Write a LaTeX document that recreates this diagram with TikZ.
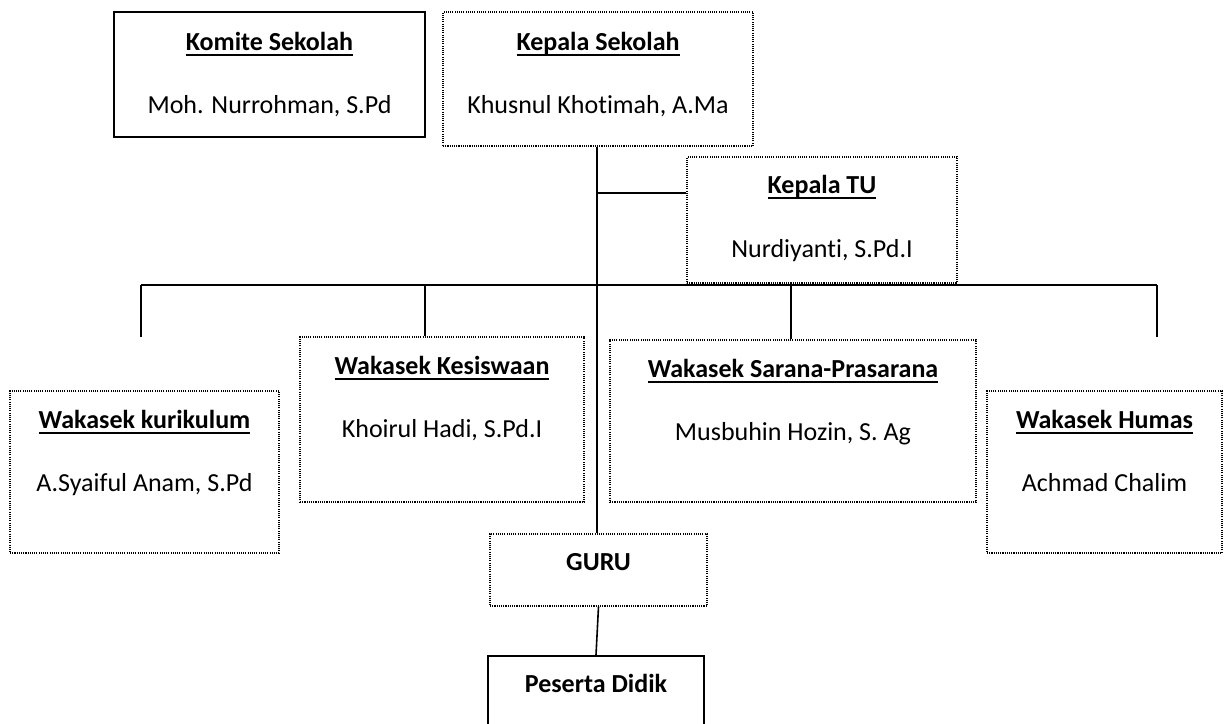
\documentclass[tikz,border=0pt]{standalone}
\usepackage{fontspec}
\setmainfont{Carlito}[Ligatures={NoCommon}]
\tikzset{
  solidbox/.style={draw, line width=1pt, inner sep=0pt, rectangle},
  dotbox/.style={draw, line width=0.6pt, dash pattern=on 0.55pt off 0.55pt, inner sep=0pt, rectangle},
  ttl/.style={anchor=base, inner sep=0pt, font=\fontsize{13pt}{15pt}\selectfont\bfseries},
  nm/.style={anchor=base, inner sep=0pt, font=\fontsize{13pt}{15pt}\selectfont},
  conn/.style={draw, line width=0.8pt}
}
\newcommand{\ul}[1]{\setbox0\hbox{#1}\rlap{\rule[-3pt]{\wd0}{1pt}}\box0}
\begin{document}
\begin{tikzpicture}[x=0.5pt, y=-0.5pt]
\useasboundingbox (0,0) rectangle (1225,723);
\clip (0,0) rectangle (1225,723);
% boxes
\node[solidbox, minimum width=155.5pt, minimum height=62.5pt] (kom) at (269.5,74.5) {};
\node[dotbox, minimum width=155pt, minimum height=67pt] (ks) at (598,79) {};
\node[dotbox, minimum width=135pt, minimum height=63pt] (tu) at (822,220) {};
\node[dotbox, minimum width=134.5pt, minimum height=81pt] (kur) at (144.5,472) {};
\node[dotbox, minimum width=142pt, minimum height=82.5pt] (kes) at (442,419.5) {};
\node[dotbox, minimum width=183pt, minimum height=81pt] (sar) at (793,421) {};
\node[dotbox, minimum width=117.5pt, minimum height=81pt] (hum) at (1104.5,472) {};
\node[dotbox, minimum width=108.5pt, minimum height=36pt] (guru) at (598.5,570) {};
\node[solidbox, minimum width=108pt, minimum height=42pt] (pd) at (596,698) {};
% texts
\node[ttl] (komt) at (269.5,50) {\ul{Komite Sekolah}};
\node[nm] (komn) at (269.5,113) {Moh. Nurrohman, S.Pd};
\node[ttl] (kst) at (598,50) {\ul{Kepala Sekolah}};
\node[nm] (ksn) at (598,113) {Khusnul Khotimah, A.Ma};
\node[ttl] (tut) at (822,193) {\ul{Kepala TU}};
\node[nm] (tun) at (822,257) {Nurdiyanti, S.Pd.I};
\node[ttl] (kurt) at (144.5,428) {\ul{Wakasek kurikulum}};
\node[nm] (kurn) at (144.5,491) {A.Syaiful Anam, S.Pd};
\node[ttl] (kest) at (442,374) {\ul{Wakasek Kesiswaan}};
\node[nm] (kesn) at (442,437) {Khoirul Hadi, S.Pd.I};
\node[ttl] (sart) at (793,377) {\ul{Wakasek Sarana-Prasarana}};
\node[nm] (sarn) at (793,440) {Musbuhin Hozin, S. Ag};
\node[ttl] (humt) at (1104.5,428) {\ul{Wakasek Humas}};
\node[nm] (humn) at (1104.5,491) {Achmad Chalim};
\node[ttl] (gurut) at (598.5,570) {GURU};
\node[ttl] (pdt) at (596,692) {Peserta Didik};
% connector coordinates
\coordinate (tuj) at (597,193);
\coordinate (hl) at (141,285);
\coordinate (hr) at (1157,285);
\coordinate (kurs) at (141,337);
\coordinate (hums) at (1157,337);
\coordinate (kesj) at (425,285);
\coordinate (sarj) at (791,285);
% connectors
\draw[conn] (ks.south -| tuj) -- (guru.north -| tuj);
\draw[conn] (tuj) -- (tuj -| tu.west);
\draw[conn] (hl) -- (hr);
\draw[conn] (hl) -- (kurs);
\draw[conn] (hr) -- (hums);
\draw[conn] (kesj) -- (kesj |- kes.north);
\draw[conn] (sarj) -- (sarj |- sar.north);
\draw[conn] (guru.south) -- (pd.north);
\end{tikzpicture}
\end{document}
